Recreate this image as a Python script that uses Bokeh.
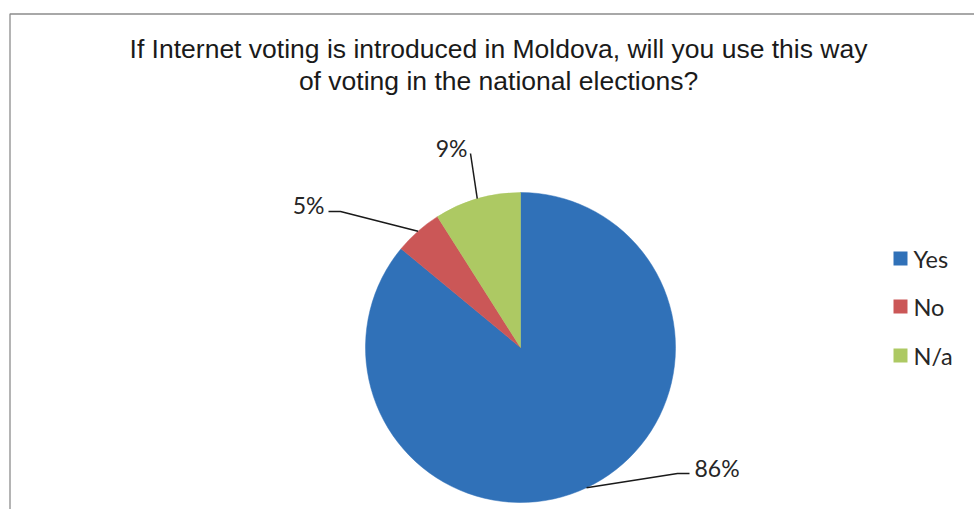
import numpy as np
from bokeh.plotting import figure
from bokeh.models import Range1d, ColumnDataSource
from bokeh.core.properties import value
from bokeh.embed import file_html
from bokeh.resources import INLINE

# ---- data ----
categories = ["Yes", "No", "N/a"]
shares = [86, 5, 9]
title_lines = ["If Internet voting is introduced in Moldova, will you use this way",
               "of voting in the national elections?"]

# ---- style / layout ----
colors = ["#3071B8", "#CB5757", "#ADC963"]
W, H = 974, 509
CX, CY, R = 520, 347, 155  # pixel coords of pie center, radius


def Y(py):
    return H - py


p = figure(width=W, height=H, x_range=Range1d(0, W), y_range=Range1d(0, H),
           output_backend="svg", toolbar_location=None, min_border=0,
           outline_line_color=None)
p.axis.visible = False
p.grid.visible = False
p.background_fill_color = "white"
p.border_fill_color = "white"

# chart frame
p.line([9.5, 9.5, 1000], [-5, Y(13.5), Y(13.5)], line_color="#8C8C8C", line_width=1.3)

# wedges: start at 12 o'clock, go clockwise
vals = np.array(shares, dtype=float)
frac = vals / vals.sum()
cum = np.concatenate([[0], np.cumsum(frac)])
start = np.pi / 2 - cum[1:] * 2 * np.pi
end = np.pi / 2 - cum[:-1] * 2 * np.pi
src = ColumnDataSource(dict(cat=categories, start=start, end=end, color=colors))
p.wedge(x=CX, y=Y(CY), radius=R, start_angle="start", end_angle="end",
        fill_color="color", line_color="color", line_width=0.5, source=src)

# legend
leg_y = [258, 306, 355]
for c, col, ly in zip(categories, colors, leg_y):
    p.quad(left=893, right=907, top=Y(ly - 7), bottom=Y(ly + 7), fill_color=col, line_color=None)
    p.text(x=[913], y=[Y(ly)], text=[c], text_font=value("Lato"), text_font_size="23.5px",
           text_color="#262626", text_baseline="middle", text_align="left")

# data labels with leader lines
mid = (start + end) / 2
elbows = [[(677, 473), (689, 473)], [(340, 211), (328, 211)], [(470, 153)]]
anchors = [(694, 467, "left"), (324, 204, "right"), (467, 147, "right")]
for i in range(len(categories)):
    sx = CX + R * np.cos(mid[i])
    sy = Y(CY) + R * np.sin(mid[i])
    xs = [sx] + [e[0] for e in elbows[i]]
    ys = [sy] + [Y(e[1]) for e in elbows[i]]
    p.line(xs, ys, line_color="#1a1a1a", line_width=1.5)
    ax, ay, al = anchors[i]
    p.text(x=[ax], y=[Y(ay)], text=[f"{shares[i]}%"], text_font=value("Lato"),
           text_font_size="23px", text_color="#262626", text_baseline="middle", text_align=al)

# title
for k, t in enumerate(title_lines):
    p.text(x=[498], y=[Y(48 + 32 * k)], text=[t], text_font=value("Liberation Sans"),
           text_font_size="26.5px", text_color="#1a1a1a", text_baseline="middle", text_align="center")

open("out.html", "w").write(file_html(p, INLINE))
